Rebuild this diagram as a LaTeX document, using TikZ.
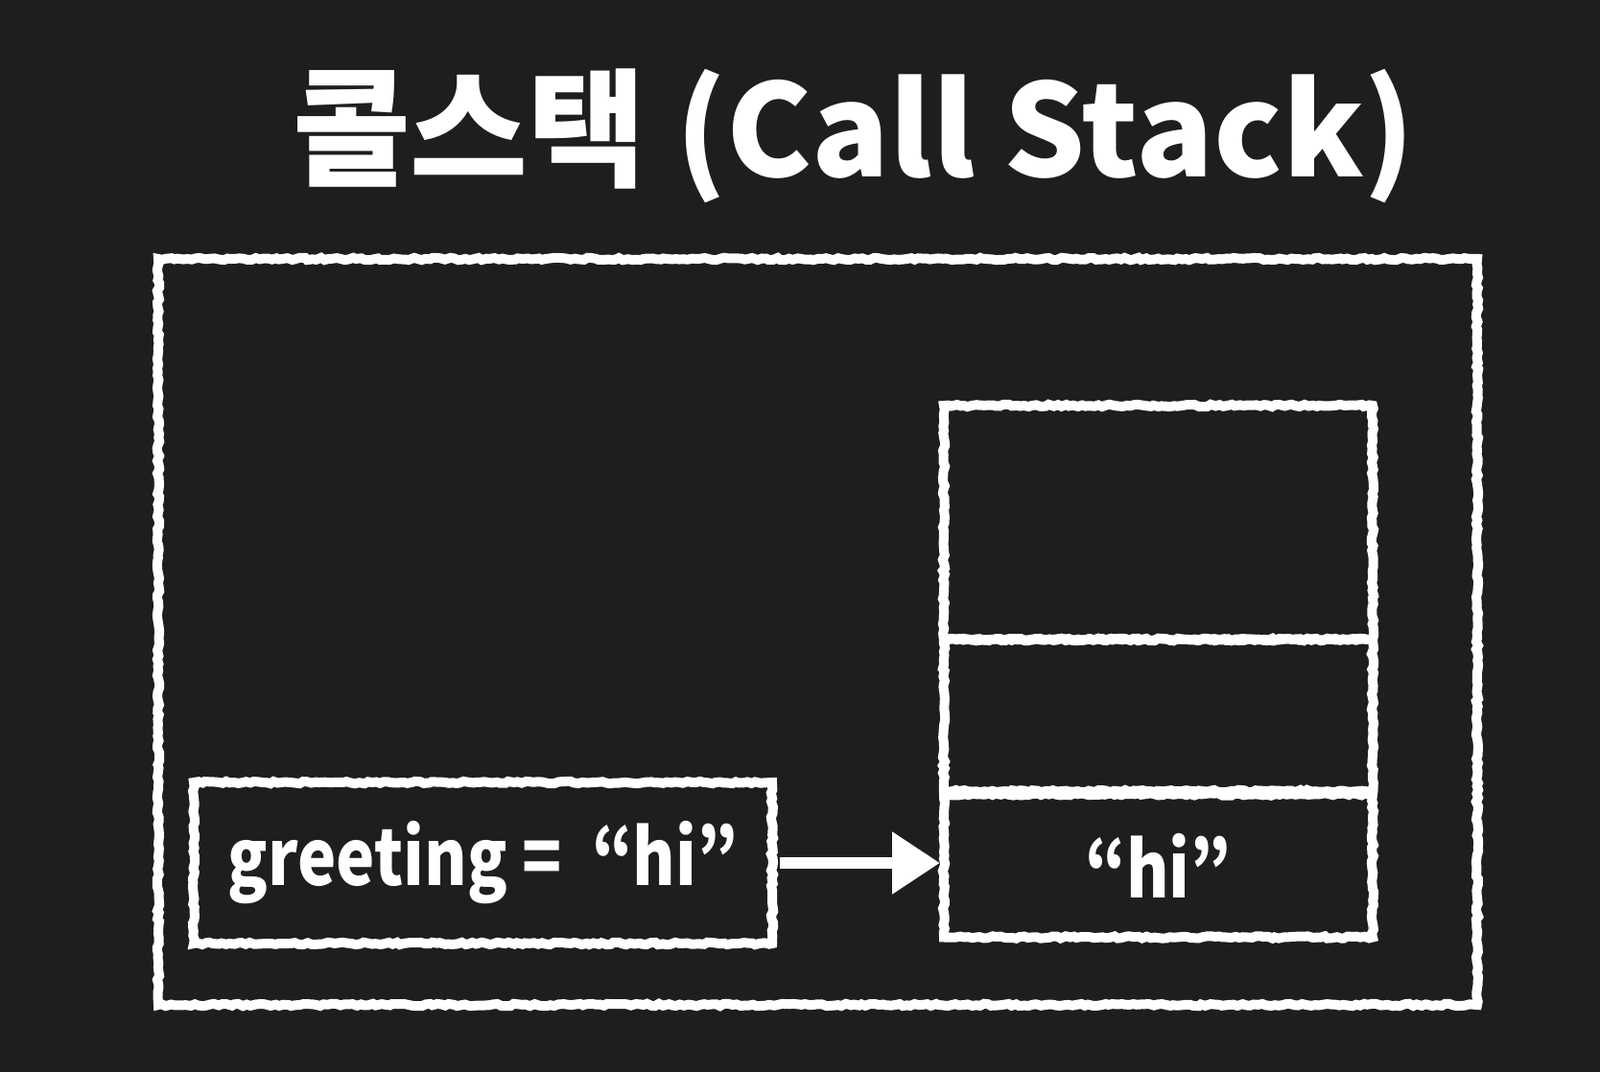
\documentclass[tikz,border=0pt]{standalone}
\usepackage{fontspec}
\usepackage{graphicx}
\setmainfont{Noto Sans CJK KR}
\usetikzlibrary{arrows.meta,decorations.pathmorphing}
\definecolor{bg}{RGB}{30,30,30}
\newcommand{\narrow}[1]{\scalebox{0.84}[1]{#1}}
\begin{document}
\begin{tikzpicture}[
  chalk/.style={draw=white, line width=0.10cm, inner sep=0pt, outer sep=0pt,
    decorate, decoration={random steps, segment length=1.2pt, amplitude=0.35pt}},
  label/.style={text=white, font=\bfseries\fontsize{23}{30}\selectfont},
  arrowline/.style={draw=white, line width=0.12cm,
    -{Triangle[length=0.50cm, width=0.62cm]}}
]
\fill[bg] (0,0) rectangle (16.68,-11.18);
\useasboundingbox (0,0) rectangle (16.68,-11.18);
\node[text=white, font=\bfseries\fontsize{38}{44}\selectfont] (title) at (8.9,-1.42) {콜스택 (Call Stack)};
\node[chalk, minimum width=13.75cm, minimum height=7.78cm] (frame) at (8.525,-6.59) {};
\node[chalk, minimum width=4.47cm, minimum height=2.44cm] (top) at (12.075,-5.45) {};
\node[chalk, minimum width=4.47cm, minimum height=1.58cm] (mid) at (12.075,-7.46) {};
\node[chalk, minimum width=4.47cm, minimum height=1.49cm, label] (bottom) at (12.075,-9.03) {\narrow{“hi”}};
\node[chalk, minimum width=6.03cm, minimum height=1.68cm, label] (var) at (5.035,-9.00) {\narrow{greeting =\ \ “hi”}};
\draw[arrowline, shorten <=0.08cm, shorten >=0.04cm] (var.east) -- (var.east -| bottom.west);
\end{tikzpicture}
\end{document}
